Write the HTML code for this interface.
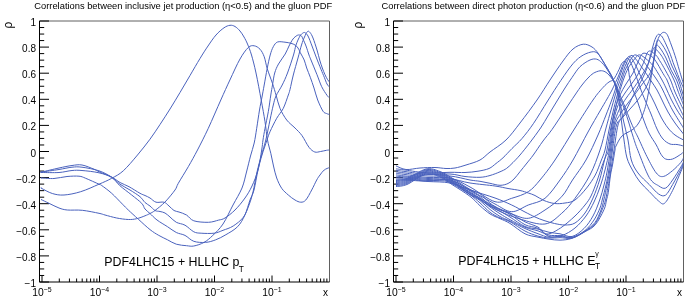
<!DOCTYPE html><html><head><meta charset="utf-8"><style>html,body{margin:0;padding:0;background:#fff;width:685px;height:300px;overflow:hidden}svg{display:block;will-change:transform}text{font-family:"Liberation Sans",sans-serif;fill:#000}</style></head><body>
<svg width="685" height="300" viewBox="0 0 685 300">
<defs><clipPath id="cl"><rect x="39.5" y="21.0" width="290.0" height="261.0"/></clipPath><clipPath id="cr"><rect x="393.5" y="21.0" width="290.0" height="261.0"/></clipPath></defs>
<path d="M39.5,21.0H329.5V282.0" fill="none" stroke="#606060" stroke-width="1"/>
<path d="M39.5,21.0V282.0H329.5" fill="none" stroke="#000" stroke-width="1"/>
<path d="M39.5,282.00h9.5M39.5,275.48h4.7M39.5,268.95h4.7M39.5,262.43h4.7M39.5,255.90h9.5M39.5,249.38h4.7M39.5,242.85h4.7M39.5,236.32h4.7M39.5,229.80h9.5M39.5,223.28h4.7M39.5,216.75h4.7M39.5,210.22h4.7M39.5,203.70h9.5M39.5,197.18h4.7M39.5,190.65h4.7M39.5,184.12h4.7M39.5,177.60h9.5M39.5,171.07h4.7M39.5,164.55h4.7M39.5,158.03h4.7M39.5,151.50h9.5M39.5,144.97h4.7M39.5,138.45h4.7M39.5,131.93h4.7M39.5,125.40h9.5M39.5,118.88h4.7M39.5,112.35h4.7M39.5,105.82h4.7M39.5,99.30h9.5M39.5,92.78h4.7M39.5,86.25h4.7M39.5,79.72h4.7M39.5,73.20h9.5M39.5,66.67h4.7M39.5,60.15h4.7M39.5,53.62h4.7M39.5,47.10h9.5M39.5,40.57h4.7M39.5,34.05h4.7M39.5,27.52h4.7M39.5,21.00h9.5M42.00,282.0v-6.5M59.31,282.0v-3.5M69.43,282.0v-3.5M76.62,282.0v-3.5M82.19,282.0v-3.5M86.74,282.0v-3.5M90.59,282.0v-3.5M93.93,282.0v-3.5M96.87,282.0v-3.5M99.50,282.0v-6.5M116.81,282.0v-3.5M126.93,282.0v-3.5M134.12,282.0v-3.5M139.69,282.0v-3.5M144.24,282.0v-3.5M148.09,282.0v-3.5M151.43,282.0v-3.5M154.37,282.0v-3.5M157.00,282.0v-6.5M174.31,282.0v-3.5M184.43,282.0v-3.5M191.62,282.0v-3.5M197.19,282.0v-3.5M201.74,282.0v-3.5M205.59,282.0v-3.5M208.93,282.0v-3.5M211.87,282.0v-3.5M214.50,282.0v-6.5M231.81,282.0v-3.5M241.93,282.0v-3.5M249.12,282.0v-3.5M254.69,282.0v-3.5M259.24,282.0v-3.5M263.09,282.0v-3.5M266.43,282.0v-3.5M269.37,282.0v-3.5M272.00,282.0v-6.5M289.31,282.0v-3.5M299.43,282.0v-3.5M306.62,282.0v-3.5M312.19,282.0v-3.5M316.74,282.0v-3.5M320.59,282.0v-3.5M323.93,282.0v-3.5M326.87,282.0v-3.5" stroke="#000" stroke-width="1" fill="none"/>
<text x="36.0" y="287.00" font-size="10" text-anchor="end">−1</text>
<text x="36.0" y="260.90" font-size="10" text-anchor="end">−0.8</text>
<text x="36.0" y="234.80" font-size="10" text-anchor="end">−0.6</text>
<text x="36.0" y="208.70" font-size="10" text-anchor="end">−0.4</text>
<text x="36.0" y="182.60" font-size="10" text-anchor="end">−0.2</text>
<text x="36.0" y="156.50" font-size="10" text-anchor="end">0</text>
<text x="36.0" y="130.40" font-size="10" text-anchor="end">0.2</text>
<text x="36.0" y="104.30" font-size="10" text-anchor="end">0.4</text>
<text x="36.0" y="78.20" font-size="10" text-anchor="end">0.6</text>
<text x="36.0" y="52.10" font-size="10" text-anchor="end">0.8</text>
<text x="36.0" y="26.00" font-size="10" text-anchor="end">1</text>
<text x="43.80" y="296" font-size="10.3" text-anchor="end">10</text><text x="43.60" y="291.5" font-size="7">−5</text>
<text x="101.30" y="296" font-size="10.3" text-anchor="end">10</text><text x="101.10" y="291.5" font-size="7">−4</text>
<text x="158.80" y="296" font-size="10.3" text-anchor="end">10</text><text x="158.60" y="291.5" font-size="7">−3</text>
<text x="216.30" y="296" font-size="10.3" text-anchor="end">10</text><text x="216.10" y="291.5" font-size="7">−2</text>
<text x="273.80" y="296" font-size="10.3" text-anchor="end">10</text><text x="273.60" y="291.5" font-size="7">−1</text>
<text x="325.5" y="296" font-size="10" text-anchor="middle">x</text>
<path d="M393.5,21.0H683.5V282.0" fill="none" stroke="#606060" stroke-width="1"/>
<path d="M393.5,21.0V282.0H683.5" fill="none" stroke="#000" stroke-width="1"/>
<path d="M393.5,282.00h9.5M393.5,275.48h4.7M393.5,268.95h4.7M393.5,262.43h4.7M393.5,255.90h9.5M393.5,249.38h4.7M393.5,242.85h4.7M393.5,236.32h4.7M393.5,229.80h9.5M393.5,223.28h4.7M393.5,216.75h4.7M393.5,210.22h4.7M393.5,203.70h9.5M393.5,197.18h4.7M393.5,190.65h4.7M393.5,184.12h4.7M393.5,177.60h9.5M393.5,171.07h4.7M393.5,164.55h4.7M393.5,158.03h4.7M393.5,151.50h9.5M393.5,144.97h4.7M393.5,138.45h4.7M393.5,131.93h4.7M393.5,125.40h9.5M393.5,118.88h4.7M393.5,112.35h4.7M393.5,105.82h4.7M393.5,99.30h9.5M393.5,92.78h4.7M393.5,86.25h4.7M393.5,79.72h4.7M393.5,73.20h9.5M393.5,66.67h4.7M393.5,60.15h4.7M393.5,53.62h4.7M393.5,47.10h9.5M393.5,40.57h4.7M393.5,34.05h4.7M393.5,27.52h4.7M393.5,21.00h9.5M396.00,282.0v-6.5M413.31,282.0v-3.5M423.43,282.0v-3.5M430.62,282.0v-3.5M436.19,282.0v-3.5M440.74,282.0v-3.5M444.59,282.0v-3.5M447.93,282.0v-3.5M450.87,282.0v-3.5M453.50,282.0v-6.5M470.81,282.0v-3.5M480.93,282.0v-3.5M488.12,282.0v-3.5M493.69,282.0v-3.5M498.24,282.0v-3.5M502.09,282.0v-3.5M505.43,282.0v-3.5M508.37,282.0v-3.5M511.00,282.0v-6.5M528.31,282.0v-3.5M538.43,282.0v-3.5M545.62,282.0v-3.5M551.19,282.0v-3.5M555.74,282.0v-3.5M559.59,282.0v-3.5M562.93,282.0v-3.5M565.87,282.0v-3.5M568.50,282.0v-6.5M585.81,282.0v-3.5M595.93,282.0v-3.5M603.12,282.0v-3.5M608.69,282.0v-3.5M613.24,282.0v-3.5M617.09,282.0v-3.5M620.43,282.0v-3.5M623.37,282.0v-3.5M626.00,282.0v-6.5M643.31,282.0v-3.5M653.43,282.0v-3.5M660.62,282.0v-3.5M666.19,282.0v-3.5M670.74,282.0v-3.5M674.59,282.0v-3.5M677.93,282.0v-3.5M680.87,282.0v-3.5" stroke="#000" stroke-width="1" fill="none"/>
<text x="390.0" y="287.00" font-size="10" text-anchor="end">−1</text>
<text x="390.0" y="260.90" font-size="10" text-anchor="end">−0.8</text>
<text x="390.0" y="234.80" font-size="10" text-anchor="end">−0.6</text>
<text x="390.0" y="208.70" font-size="10" text-anchor="end">−0.4</text>
<text x="390.0" y="182.60" font-size="10" text-anchor="end">−0.2</text>
<text x="390.0" y="156.50" font-size="10" text-anchor="end">0</text>
<text x="390.0" y="130.40" font-size="10" text-anchor="end">0.2</text>
<text x="390.0" y="104.30" font-size="10" text-anchor="end">0.4</text>
<text x="390.0" y="78.20" font-size="10" text-anchor="end">0.6</text>
<text x="390.0" y="52.10" font-size="10" text-anchor="end">0.8</text>
<text x="390.0" y="26.00" font-size="10" text-anchor="end">1</text>
<text x="397.80" y="296" font-size="10.3" text-anchor="end">10</text><text x="397.60" y="291.5" font-size="7">−5</text>
<text x="455.30" y="296" font-size="10.3" text-anchor="end">10</text><text x="455.10" y="291.5" font-size="7">−4</text>
<text x="512.80" y="296" font-size="10.3" text-anchor="end">10</text><text x="512.60" y="291.5" font-size="7">−3</text>
<text x="570.30" y="296" font-size="10.3" text-anchor="end">10</text><text x="570.10" y="291.5" font-size="7">−2</text>
<text x="627.80" y="296" font-size="10.3" text-anchor="end">10</text><text x="627.60" y="291.5" font-size="7">−1</text>
<text x="679.5" y="296" font-size="10" text-anchor="middle">x</text>
<text x="0" y="0" font-size="12" transform="translate(12.3 25.1) rotate(-90)" text-anchor="middle">ρ</text>
<text x="0" y="0" font-size="12" transform="translate(361.8 25.1) rotate(-90)" text-anchor="middle">ρ</text>
<text x="34.3" y="9.0" font-size="9.33">Correlations between inclusive jet production (η&lt;0.5) and the gluon PDF</text>
<text x="381.6" y="9.0" font-size="9.33">Correlations between direct photon production (η&lt;0.6) and the gluon PDF</text>
<text x="104.3" y="265.8" font-size="12.38">PDF4LHC15 + HLLHC p<tspan font-size="8.3" dy="5.8" dx="-0.7">T</tspan></text>
<text x="458.3" y="264.8" font-size="12.45">PDF4LHC15 + HLLHC E<tspan font-size="8.3" dy="3.9" dx="-0.4">T</tspan><tspan font-size="7" dx="-4.9" dy="-12.4">γ</tspan></text>
<g fill="none" stroke="#4a62bd" stroke-width="1.0" clip-path="url(#cl)">
<path d="M42.00,188.38C41.92,188.36 39.78,187.45 41.50,188.30C43.22,189.15 48.55,192.38 52.30,193.50C56.05,194.62 59.27,195.30 64.00,195.00C68.73,194.70 74.87,193.50 80.70,191.70C86.53,189.90 93.83,186.43 99.00,184.20C104.17,181.97 107.65,180.53 111.70,178.30C115.75,176.07 119.00,174.68 123.30,170.80C127.60,166.92 133.05,160.27 137.50,155.00C141.95,149.73 146.25,144.28 150.00,139.20C153.75,134.12 156.67,129.53 160.00,124.50C163.33,119.47 166.67,114.33 170.00,109.00C173.33,103.67 176.67,98.08 180.00,92.50C183.33,86.92 186.67,81.17 190.00,75.50C193.33,69.83 197.00,63.42 200.00,58.50C203.00,53.58 205.33,49.92 208.00,46.00C210.67,42.08 213.33,38.03 216.00,35.00C218.67,31.97 221.67,29.42 224.00,27.80C226.33,26.18 228.17,25.52 230.00,25.30C231.83,25.08 233.33,25.55 235.00,26.50C236.67,27.45 238.50,29.25 240.00,31.00C241.50,32.75 242.75,34.83 244.00,37.00C245.25,39.17 246.25,41.00 247.50,44.00C248.75,47.00 250.08,50.17 251.50,55.00C252.92,59.83 254.38,65.50 256.00,73.00C257.62,80.50 259.70,91.88 261.20,100.00C262.70,108.12 263.95,115.03 265.00,121.70C266.05,128.37 266.53,134.73 267.50,140.00C268.47,145.27 269.80,148.97 270.80,153.30C271.80,157.63 272.52,161.88 273.50,166.00C274.48,170.12 275.33,174.28 276.70,178.00C278.07,181.72 279.77,185.47 281.70,188.30C283.63,191.13 286.08,193.05 288.30,195.00C290.52,196.95 292.92,198.80 295.00,200.00C297.08,201.20 299.00,202.20 300.80,202.20C302.60,202.20 303.98,202.03 305.80,200.00C307.62,197.97 309.88,193.33 311.70,190.00C313.52,186.67 315.32,182.50 316.70,180.00C318.08,177.50 318.75,176.67 320.00,175.00C321.25,173.33 322.62,171.25 324.20,170.00C325.78,168.75 328.62,167.92 329.50,167.50"/>
<path d="M42.00,199.75C41.92,199.74 40.33,199.11 41.50,199.70C42.67,200.29 46.08,201.92 49.00,203.30C51.92,204.68 55.95,206.88 59.00,208.00C62.05,209.12 63.42,209.62 67.30,210.00C71.18,210.38 77.02,209.75 82.30,210.30C87.58,210.85 95.22,212.52 99.00,213.30C102.78,214.08 102.05,214.22 105.00,215.00C107.95,215.78 112.82,217.25 116.70,218.00C120.58,218.75 124.97,219.38 128.30,219.50C131.63,219.62 133.92,219.32 136.70,218.70C139.48,218.08 142.78,216.67 145.00,215.80C147.22,214.93 148.33,214.38 150.00,213.50C151.67,212.62 152.50,212.42 155.00,210.50C157.50,208.58 161.67,205.42 165.00,202.00C168.33,198.58 172.78,193.12 175.00,190.00C177.22,186.88 176.08,187.18 178.30,183.30C180.52,179.42 185.10,172.25 188.30,166.70C191.50,161.15 194.17,156.40 197.50,150.00C200.83,143.60 204.42,136.63 208.30,128.30C212.18,119.97 217.20,108.05 220.80,100.00C224.40,91.95 226.70,86.83 229.90,80.00C233.10,73.17 236.93,64.42 240.00,59.00C243.07,53.58 245.93,49.70 248.30,47.50C250.67,45.30 252.25,45.52 254.20,45.80C256.15,46.08 258.33,47.38 260.00,49.20C261.67,51.02 263.00,53.48 264.20,56.70C265.40,59.92 265.82,64.03 267.20,68.50C268.58,72.97 271.00,79.00 272.50,83.50C274.00,88.00 274.95,91.37 276.20,95.50C277.45,99.63 278.25,104.22 280.00,108.30C281.75,112.38 284.20,116.72 286.70,120.00C289.20,123.28 292.45,125.40 295.00,128.00C297.55,130.60 299.67,132.38 302.00,135.60C304.33,138.82 306.87,144.57 309.00,147.30C311.13,150.03 312.87,151.30 314.80,152.00C316.73,152.70 318.65,151.78 320.60,151.50C322.55,151.22 325.02,150.55 326.50,150.30C327.98,150.05 329.00,150.05 329.50,150.00"/>
<path d="M42.00,178.00C42.00,178.00 40.00,177.92 42.00,178.00C44.00,178.08 49.83,178.75 54.00,178.50C58.17,178.25 62.83,176.88 67.00,176.50C71.17,176.12 75.88,175.90 79.00,176.20C82.12,176.50 82.37,176.97 85.70,178.30C89.03,179.63 96.33,183.00 99.00,184.20C101.67,185.40 99.58,183.98 101.70,185.50C103.82,187.02 108.23,190.18 111.70,193.30C115.17,196.42 119.73,201.42 122.50,204.20C125.27,206.98 125.67,207.50 128.30,210.00C130.93,212.50 134.68,215.93 138.30,219.20C141.92,222.47 146.58,226.90 150.00,229.60C153.42,232.30 155.88,233.70 158.80,235.40C161.72,237.10 164.58,238.33 167.50,239.80C170.42,241.27 173.13,243.22 176.30,244.20C179.47,245.18 183.58,245.40 186.50,245.70C189.42,246.00 190.88,246.55 193.80,246.00C196.72,245.45 200.83,244.17 204.00,242.40C207.17,240.63 209.63,238.47 212.80,235.40C215.97,232.33 219.63,229.07 223.00,224.00C226.37,218.93 229.83,211.00 233.00,205.00C236.17,199.00 239.75,193.50 242.00,188.00C244.25,182.50 245.08,177.33 246.50,172.00C247.92,166.67 249.22,160.83 250.50,156.00C251.78,151.17 253.17,147.62 254.20,143.00C255.23,138.38 255.82,133.80 256.70,128.30C257.58,122.80 258.62,115.22 259.50,110.00C260.38,104.78 261.22,101.17 262.00,97.00C262.78,92.83 263.33,89.75 264.20,85.00C265.07,80.25 266.20,73.50 267.20,68.50C268.20,63.50 269.18,58.63 270.20,55.00C271.22,51.37 272.08,48.87 273.30,46.70C274.52,44.53 275.55,42.75 277.50,42.00C279.45,41.25 282.75,41.98 285.00,42.20C287.25,42.42 289.33,42.83 291.00,43.30C292.67,43.77 293.83,44.22 295.00,45.00C296.17,45.78 297.00,46.50 298.00,48.00C299.00,49.50 299.97,52.00 301.00,54.00C302.03,56.00 303.25,57.67 304.20,60.00C305.15,62.33 305.68,65.12 306.70,68.00C307.72,70.88 309.08,73.97 310.30,77.30C311.52,80.63 312.77,84.22 314.00,88.00C315.23,91.78 316.20,96.13 317.70,100.00C319.20,103.87 321.53,108.95 323.00,111.20C324.47,113.45 325.42,112.95 326.50,113.50C327.58,114.05 329.00,114.33 329.50,114.50"/>
<path d="M42.00,172.00C42.00,172.00 39.17,172.67 42.00,172.00C44.83,171.33 54.00,169.08 59.00,168.00C64.00,166.92 68.17,166.00 72.00,165.50C75.83,165.00 78.33,164.38 82.00,165.00C85.67,165.62 91.17,168.08 94.00,169.20C96.83,170.32 96.05,170.40 99.00,171.70C101.95,173.00 108.20,175.20 111.70,177.00C115.20,178.80 117.12,180.88 120.00,182.50C122.88,184.12 125.67,184.90 129.00,186.70C132.33,188.50 137.33,191.83 140.00,193.30C142.67,194.77 143.33,194.72 145.00,195.50C146.67,196.28 148.17,196.88 150.00,198.00C151.83,199.12 153.67,201.50 156.00,202.20C158.33,202.90 161.83,201.57 164.00,202.20C166.17,202.83 167.33,204.62 169.00,206.00C170.67,207.38 172.33,209.50 174.00,210.50C175.67,211.50 176.92,211.25 179.00,212.00C181.08,212.75 184.03,213.53 186.50,215.00C188.97,216.47 190.15,219.58 193.80,220.80C197.45,222.02 204.27,222.42 208.40,222.30C212.53,222.18 215.83,220.82 218.60,220.10C221.37,219.38 222.27,219.68 225.00,218.00C227.73,216.32 231.67,213.33 235.00,210.00C238.33,206.67 242.17,202.00 245.00,198.00C247.83,194.00 249.83,190.67 252.00,186.00C254.17,181.33 256.38,176.00 258.00,170.00C259.62,164.00 260.87,155.00 261.70,150.00C262.53,145.00 262.45,143.62 263.00,140.00C263.55,136.38 264.12,133.02 265.00,128.30C265.88,123.58 267.33,117.25 268.30,111.70C269.27,106.15 270.10,99.45 270.80,95.00C271.50,90.55 271.85,88.67 272.50,85.00C273.15,81.33 273.70,76.50 274.70,73.00C275.70,69.50 276.75,67.17 278.50,64.00C280.25,60.83 283.45,57.00 285.20,54.00C286.95,51.00 287.70,48.50 289.00,46.00C290.30,43.50 291.67,40.75 293.00,39.00C294.33,37.25 295.92,36.17 297.00,35.50C298.08,34.83 298.75,34.92 299.50,35.00C300.25,35.08 300.92,35.33 301.50,36.00C302.08,36.67 302.25,37.33 303.00,39.00C303.75,40.67 305.00,43.33 306.00,46.00C307.00,48.67 308.17,52.67 309.00,55.00C309.83,57.33 309.67,56.72 311.00,60.00C312.33,63.28 315.22,70.25 317.00,74.70C318.78,79.15 320.03,83.27 321.70,86.70C323.37,90.13 325.70,93.42 327.00,95.30C328.30,97.18 329.08,97.55 329.50,98.00"/>
<path d="M42.00,172.00C42.00,172.00 39.17,172.42 42.00,172.00C44.83,171.58 54.00,170.30 59.00,169.50C64.00,168.70 68.17,167.58 72.00,167.20C75.83,166.82 77.50,166.60 82.00,167.20C86.50,167.80 94.05,169.13 99.00,170.80C103.95,172.47 108.20,174.97 111.70,177.20C115.20,179.43 116.95,182.07 120.00,184.20C123.05,186.33 126.67,187.92 130.00,190.00C133.33,192.08 137.50,194.62 140.00,196.70C142.50,198.78 143.33,200.95 145.00,202.50C146.67,204.05 148.33,204.67 150.00,206.00C151.67,207.33 153.33,209.58 155.00,210.50C156.67,211.42 158.33,211.08 160.00,211.50C161.67,211.92 163.33,212.08 165.00,213.00C166.67,213.92 168.12,215.45 170.00,217.00C171.88,218.55 173.80,220.93 176.30,222.30C178.80,223.67 182.08,223.62 185.00,225.20C187.92,226.78 191.12,230.47 193.80,231.80C196.48,233.13 197.70,232.97 201.10,233.20C204.50,233.43 210.55,233.68 214.20,233.20C217.85,232.72 219.83,231.50 223.00,230.30C226.17,229.10 229.80,228.18 233.20,226.00C236.60,223.82 240.77,220.70 243.40,217.20C246.03,213.70 247.40,209.20 249.00,205.00C250.60,200.80 251.67,197.50 253.00,192.00C254.33,186.50 255.58,178.17 257.00,172.00C258.42,165.83 260.03,160.33 261.50,155.00C262.97,149.67 264.38,145.83 265.80,140.00C267.22,134.17 268.75,125.83 270.00,120.00C271.25,114.17 272.30,109.00 273.30,105.00C274.30,101.00 274.52,99.33 276.00,96.00C277.48,92.67 280.28,88.83 282.20,85.00C284.12,81.17 285.62,78.00 287.50,73.00C289.38,68.00 292.08,59.67 293.50,55.00C294.92,50.33 294.92,48.17 296.00,45.00C297.08,41.83 298.83,38.00 300.00,36.00C301.17,34.00 302.17,33.55 303.00,33.00C303.83,32.45 304.17,32.20 305.00,32.70C305.83,33.20 306.83,33.78 308.00,36.00C309.17,38.22 310.58,42.33 312.00,46.00C313.42,49.67 315.00,54.12 316.50,58.00C318.00,61.88 319.70,66.08 321.00,69.30C322.30,72.52 323.30,74.85 324.30,77.30C325.30,79.75 326.13,82.38 327.00,84.00C327.87,85.62 329.08,86.50 329.50,87.00"/>
<path d="M42.00,172.50C42.00,172.50 39.17,172.50 42.00,172.50C44.83,172.50 54.00,172.83 59.00,172.50C64.00,172.17 68.17,170.83 72.00,170.50C75.83,170.17 77.50,170.12 82.00,170.50C86.50,170.88 94.05,171.63 99.00,172.80C103.95,173.97 108.20,175.33 111.70,177.50C115.20,179.67 116.67,182.88 120.00,185.80C123.33,188.72 128.08,192.08 131.70,195.00C135.32,197.92 139.48,200.97 141.70,203.30C143.92,205.63 143.62,207.30 145.00,209.00C146.38,210.70 148.00,211.67 150.00,213.50C152.00,215.33 154.08,217.80 157.00,220.00C159.92,222.20 164.28,224.62 167.50,226.70C170.72,228.78 173.38,231.05 176.30,232.50C179.22,233.95 182.08,233.93 185.00,235.40C187.92,236.87 190.38,240.13 193.80,241.30C197.22,242.47 201.85,242.65 205.50,242.40C209.15,242.15 212.30,241.08 215.70,239.80C219.10,238.52 222.25,236.88 225.90,234.70C229.55,232.52 234.43,229.98 237.60,226.70C240.77,223.42 242.83,219.45 244.90,215.00C246.97,210.55 248.48,204.17 250.00,200.00C251.52,195.83 252.67,195.00 254.00,190.00C255.33,185.00 256.67,175.83 258.00,170.00C259.33,164.17 260.50,160.00 262.00,155.00C263.50,150.00 265.67,143.88 267.00,140.00C268.33,136.12 268.38,135.32 270.00,131.70C271.62,128.08 274.48,122.20 276.70,118.30C278.92,114.40 281.37,112.18 283.30,108.30C285.23,104.42 287.18,98.13 288.30,95.00C289.42,91.87 289.17,92.83 290.00,89.50C290.83,86.17 291.97,80.25 293.30,75.00C294.63,69.75 296.63,63.00 298.00,58.00C299.37,53.00 300.42,48.50 301.50,45.00C302.58,41.50 303.50,39.25 304.50,37.00C305.50,34.75 306.58,32.25 307.50,31.50C308.42,30.75 309.08,31.42 310.00,32.50C310.92,33.58 311.83,35.08 313.00,38.00C314.17,40.92 315.88,46.33 317.00,50.00C318.12,53.67 318.82,57.00 319.70,60.00C320.58,63.00 321.42,65.55 322.30,68.00C323.18,70.45 324.15,72.82 325.00,74.70C325.85,76.58 326.65,78.08 327.40,79.30C328.15,80.52 329.15,81.55 329.50,82.00"/>
</g>
<g fill="none" stroke="#4a62bd" stroke-width="1.0" clip-path="url(#cr)">
<path d="M396.00,165.90C397.67,166.50 402.00,169.15 406.00,169.50C410.00,169.85 415.17,168.33 420.00,168.00C424.83,167.67 430.67,167.42 435.00,167.50C439.33,167.58 442.67,168.42 446.00,168.50C449.33,168.58 451.67,168.58 455.00,168.00C458.33,167.42 461.83,166.33 466.00,165.00C470.17,163.67 476.00,162.17 480.00,160.00C484.00,157.83 485.67,155.33 490.00,152.00C494.33,148.67 501.00,144.83 506.00,140.00C511.00,135.17 514.83,129.67 520.00,123.00C525.17,116.33 532.00,107.17 537.00,100.00C542.00,92.83 545.67,86.50 550.00,80.00C554.33,73.50 559.17,66.17 563.00,61.00C566.83,55.83 569.62,51.80 573.00,49.00C576.38,46.20 580.13,44.53 583.30,44.20C586.47,43.87 589.55,45.53 592.00,47.00C594.45,48.47 596.25,50.75 598.00,53.00C599.75,55.25 601.08,58.17 602.50,60.50C603.92,62.83 605.25,64.92 606.50,67.00C607.75,69.08 608.83,70.83 610.00,73.00C611.17,75.17 612.42,77.17 613.50,80.00C614.58,82.83 615.58,86.33 616.50,90.00C617.42,93.67 618.20,97.00 619.00,102.00C619.80,107.00 620.47,113.67 621.30,120.00C622.13,126.33 623.05,133.67 624.00,140.00C624.95,146.33 625.50,152.83 627.00,158.00C628.50,163.17 630.83,167.00 633.00,171.00C635.17,175.00 637.28,178.57 640.00,182.00C642.72,185.43 646.20,188.43 649.30,191.60C652.40,194.77 656.07,199.05 658.60,201.00C661.13,202.95 662.17,205.05 664.50,203.30C666.83,201.55 669.88,195.75 672.60,190.50C675.32,185.25 678.98,176.05 680.80,171.80C682.62,167.55 683.05,166.13 683.50,165.00"/>
<path d="M396.00,168.83C397.50,169.02 399.67,169.30 405.00,170.00C410.33,170.70 420.50,172.62 428.00,173.00C435.50,173.38 443.83,172.38 450.00,172.30C456.17,172.22 460.33,172.68 465.00,172.50C469.67,172.32 474.00,171.87 478.00,171.20C482.00,170.53 486.00,169.78 489.00,168.50C492.00,167.22 493.67,165.28 496.00,163.50C498.33,161.72 500.33,160.30 503.00,157.80C505.67,155.30 508.83,151.72 512.00,148.50C515.17,145.28 518.40,142.70 522.00,138.50C525.60,134.30 529.33,129.55 533.60,123.30C537.87,117.05 543.07,108.13 547.60,101.00C552.13,93.87 556.52,86.78 560.80,80.50C565.08,74.22 569.55,67.55 573.30,63.30C577.05,59.05 579.97,56.93 583.30,55.00C586.63,53.07 590.80,51.83 593.30,51.70C595.80,51.57 596.68,52.65 598.30,54.20C599.92,55.75 601.55,58.70 603.00,61.00C604.45,63.30 605.75,65.83 607.00,68.00C608.25,70.17 609.33,71.83 610.50,74.00C611.67,76.17 612.92,78.33 614.00,81.00C615.08,83.67 616.00,86.50 617.00,90.00C618.00,93.50 618.95,97.00 620.00,102.00C621.05,107.00 621.97,113.67 623.30,120.00C624.63,126.33 626.67,133.33 628.00,140.00C629.33,146.67 629.63,154.50 631.30,160.00C632.97,165.50 635.00,168.90 638.00,173.00C641.00,177.10 645.87,181.10 649.30,184.60C652.73,188.10 655.88,192.25 658.60,194.00C661.32,195.75 663.27,196.67 665.60,195.10C667.93,193.53 670.07,188.87 672.60,184.60C675.13,180.33 678.98,173.10 680.80,169.50C682.62,165.90 683.05,164.08 683.50,163.00"/>
<path d="M396.00,170.33C397.50,170.52 399.67,170.80 405.00,171.50C410.33,172.20 420.50,174.08 428.00,174.50C435.50,174.92 443.83,173.67 450.00,174.00C456.17,174.33 460.00,175.95 465.00,176.50C470.00,177.05 475.83,177.47 480.00,177.30C484.17,177.13 486.67,176.42 490.00,175.50C493.33,174.58 497.22,173.00 500.00,171.80C502.78,170.60 504.53,169.85 506.70,168.30C508.87,166.75 510.78,164.72 513.00,162.50C515.22,160.28 517.17,158.33 520.00,155.00C522.83,151.67 526.57,147.00 530.00,142.50C533.43,138.00 537.52,132.58 540.60,128.00C543.68,123.42 545.77,119.50 548.50,115.00C551.23,110.50 554.25,105.50 557.00,101.00C559.75,96.50 562.50,91.92 565.00,88.00C567.50,84.08 569.50,81.05 572.00,77.50C574.50,73.95 577.00,69.62 580.00,66.70C583.00,63.78 587.22,61.25 590.00,60.00C592.78,58.75 594.75,58.78 596.70,59.20C598.65,59.62 600.23,61.20 601.70,62.50C603.17,63.80 604.28,65.33 605.50,67.00C606.72,68.67 607.83,70.58 609.00,72.50C610.17,74.42 611.42,76.42 612.50,78.50C613.58,80.58 614.42,82.25 615.50,85.00C616.58,87.75 617.58,91.17 619.00,95.00C620.42,98.83 622.50,103.83 624.00,108.00C625.50,112.17 626.45,115.12 628.00,120.00C629.55,124.88 631.63,132.18 633.30,137.30C634.97,142.42 635.33,143.98 638.00,150.70C640.67,157.42 645.87,171.75 649.30,177.60C652.73,183.45 655.88,184.05 658.60,185.80C661.32,187.55 663.27,189.07 665.60,188.10C667.93,187.13 670.07,183.50 672.60,180.00C675.13,176.50 678.98,170.10 680.80,167.10C682.62,164.10 683.05,162.85 683.50,162.00"/>
<path d="M396.00,171.83C397.50,172.02 399.67,172.30 405.00,173.00C410.33,173.70 420.50,175.50 428.00,176.00C435.50,176.50 443.00,175.33 450.00,176.00C457.00,176.67 465.00,179.12 470.00,180.00C475.00,180.88 476.67,180.75 480.00,181.30C483.33,181.85 486.67,182.63 490.00,183.30C493.33,183.97 497.00,185.27 500.00,185.30C503.00,185.33 505.67,184.55 508.00,183.50C510.33,182.45 512.00,180.97 514.00,179.00C516.00,177.03 517.83,174.37 520.00,171.70C522.17,169.03 524.78,165.78 527.00,163.00C529.22,160.22 530.63,158.67 533.30,155.00C535.97,151.33 539.88,145.25 543.00,141.00C546.12,136.75 548.33,134.67 552.00,129.50C555.67,124.33 561.17,115.75 565.00,110.00C568.83,104.25 572.17,99.17 575.00,95.00C577.83,90.83 579.83,87.83 582.00,85.00C584.17,82.17 586.12,79.95 588.00,78.00C589.88,76.05 591.30,74.50 593.30,73.30C595.30,72.10 598.05,71.07 600.00,70.80C601.95,70.53 603.50,71.00 605.00,71.70C606.50,72.40 607.75,73.70 609.00,75.00C610.25,76.30 611.33,77.67 612.50,79.50C613.67,81.33 614.75,83.42 616.00,86.00C617.25,88.58 618.50,91.50 620.00,95.00C621.50,98.50 623.33,102.83 625.00,107.00C626.67,111.17 628.38,116.05 630.00,120.00C631.62,123.95 633.37,127.82 634.70,130.70C636.03,133.58 635.95,132.97 638.00,137.30C640.05,141.63 643.95,150.75 647.00,156.70C650.05,162.65 653.58,169.70 656.30,173.00C659.02,176.30 660.58,176.90 663.30,176.50C666.02,176.10 669.68,172.93 672.60,170.60C675.52,168.27 678.98,164.60 680.80,162.50C682.62,160.40 683.05,158.75 683.50,158.00"/>
<path d="M396.00,173.33C397.50,173.52 399.67,173.80 405.00,174.50C410.33,175.20 420.50,176.92 428.00,177.50C435.50,178.08 443.00,176.42 450.00,178.00C457.00,179.58 462.50,183.05 470.00,187.00C477.50,190.95 488.05,199.82 495.00,201.70C501.95,203.58 506.15,199.97 511.70,198.30C517.25,196.63 523.58,194.75 528.30,191.70C533.02,188.65 535.55,185.28 540.00,180.00C544.45,174.72 549.17,168.67 555.00,160.00C560.83,151.33 568.67,138.00 575.00,128.00C581.33,118.00 588.33,106.75 593.00,100.00C597.67,93.25 600.33,90.50 603.00,87.50C605.67,84.50 607.33,83.25 609.00,82.00C610.67,80.75 611.83,81.08 613.00,80.00C614.17,78.92 615.00,77.25 616.00,75.50C617.00,73.75 618.08,71.42 619.00,69.50C619.92,67.58 620.67,65.33 621.50,64.00C622.33,62.67 623.17,61.67 624.00,61.50C624.83,61.33 625.75,61.58 626.50,63.00C627.25,64.42 627.92,67.17 628.50,70.00C629.08,72.83 629.25,76.67 630.00,80.00C630.75,83.33 631.83,86.67 633.00,90.00C634.17,93.33 635.33,95.33 637.00,100.00C638.67,104.67 641.00,112.50 643.00,118.00C645.00,123.50 646.78,128.50 649.00,133.00C651.22,137.50 654.30,141.45 656.30,145.00C658.30,148.55 659.45,151.97 661.00,154.30C662.55,156.63 663.67,158.22 665.60,159.00C667.53,159.78 670.07,159.78 672.60,159.00C675.13,158.22 678.98,155.47 680.80,154.30C682.62,153.13 683.05,152.38 683.50,152.00"/>
<path d="M396.00,174.83C397.50,175.02 399.67,175.39 405.00,176.00C410.33,176.61 420.50,177.83 428.00,178.50C435.50,179.17 443.00,178.08 450.00,180.00C457.00,181.92 462.50,186.00 470.00,190.00C477.50,194.00 488.05,200.38 495.00,204.00C501.95,207.62 506.15,211.53 511.70,211.70C517.25,211.87 522.75,207.23 528.30,205.00C533.85,202.77 539.72,202.47 545.00,198.30C550.28,194.13 555.33,186.38 560.00,180.00C564.67,173.62 568.33,168.00 573.00,160.00C577.67,152.00 583.50,140.17 588.00,132.00C592.50,123.83 596.83,116.50 600.00,111.00C603.17,105.50 605.00,102.50 607.00,99.00C609.00,95.50 610.58,92.75 612.00,90.00C613.42,87.25 614.42,84.83 615.50,82.50C616.58,80.17 617.58,78.17 618.50,76.00C619.42,73.83 620.17,71.58 621.00,69.50C621.83,67.42 622.58,65.33 623.50,63.50C624.42,61.67 625.50,59.08 626.50,58.50C627.50,57.92 628.42,58.42 629.50,60.00C630.58,61.58 631.67,64.67 633.00,68.00C634.33,71.33 636.17,76.33 637.50,80.00C638.83,83.67 639.75,86.67 641.00,90.00C642.25,93.33 643.33,96.00 645.00,100.00C646.67,104.00 649.00,109.17 651.00,114.00C653.00,118.83 655.00,124.83 657.00,129.00C659.00,133.17 660.83,136.50 663.00,139.00C665.17,141.50 667.67,143.08 670.00,144.00C672.33,144.92 674.75,144.17 677.00,144.50C679.25,144.83 682.42,145.75 683.50,146.00"/>
<path d="M396.00,176.22C397.50,176.35 399.67,176.45 405.00,177.00C410.33,177.55 420.50,178.83 428.00,179.50C435.50,180.17 443.00,178.92 450.00,181.00C457.00,183.08 462.50,187.67 470.00,192.00C477.50,196.33 488.00,203.33 495.00,207.00C502.00,210.67 506.45,212.12 512.00,214.00C517.55,215.88 522.80,218.97 528.30,218.30C533.80,217.63 539.43,213.60 545.00,210.00C550.57,206.40 557.12,201.70 561.70,196.70C566.28,191.70 568.45,186.12 572.50,180.00C576.55,173.88 581.75,167.50 586.00,160.00C590.25,152.50 594.67,142.50 598.00,135.00C601.33,127.50 603.83,120.50 606.00,115.00C608.17,109.50 609.58,105.83 611.00,102.00C612.42,98.17 613.50,95.00 614.50,92.00C615.50,89.00 616.17,86.50 617.00,84.00C617.83,81.50 618.67,79.33 619.50,77.00C620.33,74.67 621.17,72.25 622.00,70.00C622.83,67.75 623.42,65.75 624.50,63.50C625.58,61.25 627.30,57.33 628.50,56.50C629.70,55.67 630.45,56.92 631.70,58.50C632.95,60.08 634.20,62.42 636.00,66.00C637.80,69.58 640.33,75.67 642.50,80.00C644.67,84.33 646.92,88.00 649.00,92.00C651.08,96.00 653.00,99.83 655.00,104.00C657.00,108.17 658.83,113.00 661.00,117.00C663.17,121.00 665.67,125.00 668.00,128.00C670.33,131.00 672.42,133.00 675.00,135.00C677.58,137.00 682.08,139.17 683.50,140.00"/>
<path d="M396.00,177.61C397.50,177.67 399.67,177.52 405.00,178.00C410.33,178.48 420.50,179.83 428.00,180.50C435.50,181.17 443.00,179.92 450.00,182.00C457.00,184.08 462.50,188.50 470.00,193.00C477.50,197.50 486.67,204.67 495.00,209.00C503.33,213.33 511.67,216.50 520.00,219.00C528.33,221.50 538.05,224.95 545.00,224.00C551.95,223.05 556.70,217.58 561.70,213.30C566.70,209.02 570.28,204.68 575.00,198.30C579.72,191.92 585.83,183.05 590.00,175.00C594.17,166.95 597.33,157.83 600.00,150.00C602.67,142.17 604.17,134.67 606.00,128.00C607.83,121.33 609.50,115.33 611.00,110.00C612.50,104.67 613.83,100.00 615.00,96.00C616.17,92.00 617.00,89.00 618.00,86.00C619.00,83.00 620.08,80.58 621.00,78.00C621.92,75.42 622.58,73.00 623.50,70.50C624.42,68.00 625.25,65.50 626.50,63.00C627.75,60.50 629.47,56.17 631.00,55.50C632.53,54.83 633.82,56.92 635.70,59.00C637.58,61.08 639.83,64.50 642.30,68.00C644.77,71.50 648.05,76.33 650.50,80.00C652.95,83.67 655.08,86.67 657.00,90.00C658.92,93.33 660.17,96.33 662.00,100.00C663.83,103.67 665.83,108.17 668.00,112.00C670.17,115.83 672.42,119.33 675.00,123.00C677.58,126.67 682.08,132.17 683.50,134.00"/>
<path d="M396.00,179.00C397.50,179.00 399.67,178.67 405.00,179.00C410.33,179.33 420.50,181.00 428.00,181.00C435.50,181.00 443.00,178.67 450.00,179.00C457.00,179.33 462.50,181.83 470.00,183.00C477.50,184.17 488.67,185.08 495.00,186.00C501.33,186.92 503.83,187.75 508.00,188.50C512.17,189.25 516.62,189.75 520.00,190.50C523.38,191.25 525.80,192.17 528.30,193.00C530.80,193.83 532.38,194.25 535.00,195.50C537.62,196.75 540.75,199.17 544.00,200.50C547.25,201.83 551.00,203.08 554.50,203.50C558.00,203.92 561.58,203.58 565.00,203.00C568.42,202.42 571.40,202.50 575.00,200.00C578.60,197.50 583.22,192.17 586.60,188.00C589.98,183.83 592.90,179.50 595.30,175.00C597.70,170.50 599.38,165.17 601.00,161.00C602.62,156.83 603.67,155.17 605.00,150.00C606.33,144.83 607.67,136.33 609.00,130.00C610.33,123.67 611.67,117.67 613.00,112.00C614.33,106.33 615.83,100.33 617.00,96.00C618.17,91.67 619.08,89.00 620.00,86.00C620.92,83.00 621.67,80.58 622.50,78.00C623.33,75.42 623.92,73.08 625.00,70.50C626.08,67.92 627.42,65.08 629.00,62.50C630.58,59.92 632.50,55.67 634.50,55.00C636.50,54.33 638.80,56.50 641.00,58.50C643.20,60.50 645.03,63.42 647.70,67.00C650.37,70.58 654.57,76.33 657.00,80.00C659.43,83.67 660.63,85.83 662.30,89.00C663.97,92.17 665.22,95.33 667.00,99.00C668.78,102.67 670.25,106.17 673.00,111.00C675.75,115.83 681.75,125.17 683.50,128.00"/>
<path d="M396.00,180.00C397.50,180.00 399.67,179.75 405.00,180.00C410.33,180.25 420.50,181.00 428.00,181.50C435.50,182.00 443.00,181.58 450.00,183.00C457.00,184.42 462.50,187.50 470.00,190.00C477.50,192.50 488.05,195.50 495.00,198.00C501.95,200.50 506.70,202.67 511.70,205.00C516.70,207.33 521.12,210.00 525.00,212.00C528.88,214.00 531.83,215.58 535.00,217.00C538.17,218.42 540.75,219.42 544.00,220.50C547.25,221.58 551.00,222.75 554.50,223.50C558.00,224.25 561.58,225.08 565.00,225.00C568.42,224.92 571.67,225.00 575.00,223.00C578.33,221.00 582.00,217.17 585.00,213.00C588.00,208.83 590.57,203.50 593.00,198.00C595.43,192.50 597.77,186.00 599.60,180.00C601.43,174.00 602.77,167.00 604.00,162.00C605.23,157.00 606.00,155.00 607.00,150.00C608.00,145.00 608.83,138.00 610.00,132.00C611.17,126.00 612.67,119.67 614.00,114.00C615.33,108.33 616.83,102.50 618.00,98.00C619.17,93.50 620.00,90.33 621.00,87.00C622.00,83.67 623.00,80.75 624.00,78.00C625.00,75.25 625.83,72.92 627.00,70.50C628.17,68.08 629.67,65.50 631.00,63.50C632.33,61.50 633.75,59.92 635.00,58.50C636.25,57.08 637.17,55.33 638.50,55.00C639.83,54.67 640.80,55.00 643.00,56.50C645.20,58.00 649.37,61.50 651.70,64.00C654.03,66.50 655.28,68.83 657.00,71.50C658.72,74.17 660.50,77.25 662.00,80.00C663.50,82.75 664.50,84.83 666.00,88.00C667.50,91.17 669.17,95.33 671.00,99.00C672.83,102.67 674.92,106.50 677.00,110.00C679.08,113.50 682.42,118.33 683.50,120.00"/>
<path d="M396.00,180.54C397.83,180.20 402.00,180.42 407.00,178.50C412.00,176.58 420.50,170.17 426.00,169.00C431.50,167.83 435.67,170.00 440.00,171.50C444.33,173.00 447.00,175.04 452.00,178.02C457.00,181.00 465.33,186.77 470.00,189.39C474.67,192.01 476.67,191.43 480.00,193.73C483.33,196.04 486.67,200.64 490.00,203.20C493.33,205.75 496.67,207.45 500.00,209.06C503.33,210.68 505.83,210.76 510.00,212.89C514.17,215.02 520.33,219.48 525.00,221.85C529.67,224.22 534.33,225.07 538.00,227.09C541.67,229.12 543.25,233.85 547.00,234.00C550.75,234.15 555.83,231.00 560.50,228.00C565.17,225.00 570.92,219.83 575.00,216.00C579.08,212.17 582.33,208.33 585.00,205.00C587.67,201.67 589.00,200.00 591.00,196.00C593.00,192.00 595.17,186.00 597.00,181.00C598.83,176.00 600.58,170.00 602.00,166.00C603.42,162.00 604.42,159.67 605.50,157.00C606.58,154.33 607.42,155.33 608.50,150.00C609.58,144.67 610.83,132.00 612.00,125.00C613.17,118.00 614.17,113.00 615.50,108.00C616.83,103.00 618.25,99.00 620.00,95.00C621.75,91.00 623.83,87.67 626.00,84.00C628.17,80.33 631.00,76.67 633.00,73.00C635.00,69.33 636.33,65.28 638.00,62.00C639.67,58.72 640.72,54.22 643.00,53.30C645.28,52.38 649.37,54.88 651.70,56.50C654.03,58.12 655.45,60.75 657.00,63.00C658.55,65.25 659.67,67.72 661.00,70.00C662.33,72.28 664.00,75.03 665.00,76.70C666.00,78.37 666.00,77.78 667.00,80.00C668.00,82.22 669.50,86.50 671.00,90.00C672.50,93.50 673.92,96.67 676.00,101.00C678.08,105.33 682.25,113.50 683.50,116.00"/>
<path d="M396.00,181.54C397.83,181.20 402.00,181.45 407.00,179.50C412.00,177.55 420.50,171.01 426.00,169.83C431.50,168.65 435.67,170.87 440.00,172.42C444.33,173.96 447.00,176.05 452.00,179.10C457.00,182.15 465.33,187.82 470.00,190.74C474.67,193.66 476.67,194.24 480.00,196.62C483.33,199.00 486.67,202.84 490.00,205.04C493.33,207.23 496.67,208.24 500.00,209.79C503.33,211.34 505.83,211.86 510.00,214.35C514.17,216.83 520.33,222.37 525.00,224.71C529.67,227.04 534.00,226.37 538.00,228.34C542.00,230.30 545.00,235.31 549.00,236.50C553.00,237.69 557.67,236.92 562.00,235.50C566.33,234.08 571.00,231.25 575.00,228.00C579.00,224.75 582.83,220.33 586.00,216.00C589.17,211.67 591.67,206.83 594.00,202.00C596.33,197.17 598.17,192.33 600.00,187.00C601.83,181.67 603.42,176.17 605.00,170.00C606.58,163.83 608.17,157.50 609.50,150.00C610.83,142.50 611.75,132.00 613.00,125.00C614.25,118.00 615.33,112.83 617.00,108.00C618.67,103.17 620.83,99.67 623.00,96.00C625.17,92.33 627.67,89.33 630.00,86.00C632.33,82.67 634.83,79.67 637.00,76.00C639.17,72.33 641.08,68.12 643.00,64.00C644.92,59.88 646.38,52.80 648.50,51.30C650.62,49.80 653.83,53.43 655.70,55.00C657.57,56.57 658.37,58.65 659.70,60.70C661.03,62.75 661.90,64.08 663.70,67.30C665.50,70.52 668.62,75.88 670.50,80.00C672.38,84.12 672.83,87.00 675.00,92.00C677.17,97.00 682.08,107.00 683.50,110.00"/>
<path d="M396.00,182.54C397.83,182.20 402.00,182.48 407.00,180.50C412.00,178.52 420.50,171.86 426.00,170.67C431.50,169.47 435.67,171.75 440.00,173.33C444.33,174.92 447.00,176.92 452.00,180.18C457.00,183.44 465.33,189.84 470.00,192.91C474.67,195.98 476.67,196.45 480.00,198.60C483.33,200.74 486.67,203.71 490.00,205.80C493.33,207.88 496.67,209.24 500.00,211.12C503.33,212.99 505.83,214.48 510.00,217.05C514.17,219.62 520.33,224.52 525.00,226.53C529.67,228.53 534.00,228.13 538.00,229.09C542.00,230.04 545.33,231.46 549.00,232.25C552.67,233.04 556.17,233.11 560.00,233.82C563.83,234.52 568.00,237.39 572.00,236.50C576.00,235.61 580.50,231.92 584.00,228.50C587.50,225.08 590.38,220.75 593.00,216.00C595.62,211.25 597.87,205.17 599.70,200.00C601.53,194.83 602.78,189.67 604.00,185.00C605.22,180.33 605.92,177.83 607.00,172.00C608.08,166.17 609.33,157.83 610.50,150.00C611.67,142.17 612.58,131.67 614.00,125.00C615.42,118.33 616.95,114.50 619.00,110.00C621.05,105.50 623.97,101.50 626.30,98.00C628.63,94.50 630.55,92.50 633.00,89.00C635.45,85.50 638.50,81.17 641.00,77.00C643.50,72.83 645.92,68.75 648.00,64.00C650.08,59.25 652.22,51.00 653.50,48.50C654.78,46.00 654.45,47.92 655.70,49.00C656.95,50.08 659.45,52.83 661.00,55.00C662.55,57.17 662.83,57.83 665.00,62.00C667.17,66.17 671.83,75.17 674.00,80.00C676.17,84.83 676.42,86.83 678.00,91.00C679.58,95.17 682.58,102.67 683.50,105.00"/>
<path d="M396.00,183.54C397.83,183.20 402.00,183.51 407.00,181.50C412.00,179.49 420.50,172.71 426.00,171.50C431.50,170.29 435.67,172.62 440.00,174.25C444.33,175.88 447.00,177.92 452.00,181.26C457.00,184.60 465.33,191.28 470.00,194.30C474.67,197.33 476.67,197.29 480.00,199.41C483.33,201.52 486.67,204.61 490.00,207.00C493.33,209.39 496.67,211.62 500.00,213.74C503.33,215.85 505.83,217.42 510.00,219.68C514.17,221.94 520.33,225.42 525.00,227.28C529.67,229.15 534.00,229.57 538.00,230.88C542.00,232.19 545.33,234.35 549.00,235.14C552.67,235.93 556.17,235.26 560.00,235.62C563.83,235.98 567.83,238.15 572.00,237.30C576.17,236.45 581.33,233.38 585.00,230.50C588.67,227.62 591.50,223.75 594.00,220.00C596.50,216.25 598.63,211.33 600.00,208.00C601.37,204.67 601.20,203.83 602.20,200.00C603.20,196.17 604.95,189.67 606.00,185.00C607.05,180.33 607.58,177.83 608.50,172.00C609.42,166.17 610.42,157.83 611.50,150.00C612.58,142.17 613.42,131.17 615.00,125.00C616.58,118.83 618.83,116.67 621.00,113.00C623.17,109.33 625.78,106.00 628.00,103.00C630.22,100.00 631.92,98.17 634.30,95.00C636.68,91.83 639.63,87.72 642.30,84.00C644.97,80.28 648.35,77.03 650.30,72.70C652.25,68.37 653.05,62.53 654.00,58.00C654.95,53.47 655.00,47.17 656.00,45.50C657.00,43.83 658.33,45.92 660.00,48.00C661.67,50.08 664.17,54.33 666.00,58.00C667.83,61.67 669.25,66.33 671.00,70.00C672.75,73.67 675.00,76.67 676.50,80.00C678.00,83.33 678.83,86.50 680.00,90.00C681.17,93.50 682.92,99.17 683.50,101.00"/>
<path d="M396.00,184.54C397.83,184.20 402.00,184.53 407.00,182.50C412.00,180.47 420.50,173.56 426.00,172.33C431.50,171.11 435.67,173.50 440.00,175.17C444.33,176.83 447.00,179.12 452.00,182.34C457.00,185.56 465.33,191.44 470.00,194.46C474.67,197.49 476.67,197.99 480.00,200.50C483.33,203.01 486.67,206.86 490.00,209.52C493.33,212.18 496.67,214.53 500.00,216.45C503.33,218.36 505.83,219.01 510.00,221.02C514.17,223.03 520.33,226.38 525.00,228.50C529.67,230.62 534.00,232.27 538.00,233.73C542.00,235.19 545.33,236.80 549.00,237.24C552.67,237.68 556.17,236.27 560.00,236.37C563.83,236.46 567.83,238.69 572.00,237.80C576.17,236.91 581.17,233.55 585.00,231.00C588.83,228.45 592.33,226.00 595.00,222.50C597.67,219.00 599.53,213.75 601.00,210.00C602.47,206.25 602.80,204.17 603.80,200.00C604.80,195.83 606.05,189.67 607.00,185.00C607.95,180.33 608.58,177.83 609.50,172.00C610.42,166.17 611.33,157.83 612.50,150.00C613.67,142.17 614.75,130.50 616.50,125.00C618.25,119.50 620.75,119.67 623.00,117.00C625.25,114.33 627.67,111.67 630.00,109.00C632.33,106.33 634.67,104.00 637.00,101.00C639.33,98.00 641.83,94.83 644.00,91.00C646.17,87.17 648.33,83.17 650.00,78.00C651.67,72.83 652.75,66.17 654.00,60.00C655.25,53.83 656.33,43.83 657.50,41.00C658.67,38.17 659.42,41.00 661.00,43.00C662.58,45.00 665.17,49.17 667.00,53.00C668.83,56.83 670.08,61.50 672.00,66.00C673.92,70.50 676.58,75.00 678.50,80.00C680.42,85.00 682.67,93.33 683.50,96.00"/>
<path d="M396.00,185.54C397.83,185.20 402.00,185.56 407.00,183.50C412.00,181.44 420.50,174.40 426.00,173.17C431.50,171.93 435.67,174.37 440.00,176.08C444.33,177.79 447.00,180.31 452.00,183.42C457.00,186.53 465.33,191.49 470.00,194.74C474.67,197.98 476.67,199.98 480.00,202.91C483.33,205.84 486.67,209.80 490.00,212.30C493.33,214.80 496.67,216.34 500.00,217.92C503.33,219.49 505.83,219.56 510.00,221.74C514.17,223.93 520.33,228.65 525.00,231.04C529.67,233.43 534.00,234.92 538.00,236.10C542.00,237.27 545.33,237.85 549.00,238.11C552.67,238.36 556.17,237.61 560.00,237.61C563.83,237.60 567.83,239.13 572.00,238.10C576.17,237.07 581.12,233.83 585.00,231.40C588.88,228.97 592.47,227.07 595.30,223.50C598.13,219.93 600.30,213.92 602.00,210.00C603.70,206.08 604.50,203.83 605.50,200.00C606.50,196.17 607.17,191.67 608.00,187.00C608.83,182.33 609.50,178.17 610.50,172.00C611.50,165.83 612.75,157.83 614.00,150.00C615.25,142.17 616.58,130.50 618.00,125.00C619.42,119.50 620.72,120.33 622.50,117.00C624.28,113.67 626.62,109.17 628.70,105.00C630.78,100.83 632.83,96.17 635.00,92.00C637.17,87.83 639.70,84.00 641.70,80.00C643.70,76.00 645.53,72.17 647.00,68.00C648.47,63.83 649.50,58.67 650.50,55.00C651.50,51.33 652.25,48.58 653.00,46.00C653.75,43.42 654.33,41.25 655.00,39.50C655.67,37.75 656.33,36.37 657.00,35.50C657.67,34.63 658.12,34.05 659.00,34.30C659.88,34.55 661.08,35.22 662.30,37.00C663.52,38.78 664.97,42.12 666.30,45.00C667.63,47.88 669.18,51.42 670.30,54.30C671.42,57.18 672.05,59.68 673.00,62.30C673.95,64.92 674.92,67.22 676.00,70.00C677.08,72.78 678.25,76.00 679.50,79.00C680.75,82.00 682.83,86.50 683.50,88.00"/>
<path d="M396.00,186.54C397.83,186.20 402.00,186.59 407.00,184.50C412.00,182.41 420.50,175.25 426.00,174.00C431.50,172.75 435.67,175.25 440.00,177.00C444.33,178.75 447.00,181.28 452.00,184.50C457.00,187.72 465.33,192.76 470.00,196.30C474.67,199.84 476.67,202.81 480.00,205.74C483.33,208.68 486.67,211.76 490.00,213.91C493.33,216.05 496.67,217.04 500.00,218.63C503.33,220.22 505.83,220.90 510.00,223.43C514.17,225.96 520.33,231.52 525.00,233.81C529.67,236.10 534.00,236.26 538.00,237.15C542.00,238.03 545.33,238.61 549.00,239.11C552.67,239.61 556.17,240.29 560.00,240.15C563.83,240.02 567.83,239.71 572.00,238.30C576.17,236.89 581.12,233.95 585.00,231.70C588.88,229.45 592.13,228.48 595.30,224.80C598.47,221.12 602.13,213.73 604.00,209.60C605.87,205.47 605.78,202.88 606.50,200.00C607.22,197.12 607.63,196.47 608.30,192.30C608.97,188.13 609.80,179.55 610.50,175.00C611.20,170.45 611.75,169.17 612.50,165.00C613.25,160.83 614.42,153.17 615.00,150.00C615.58,146.83 614.83,148.33 616.00,146.00C617.17,143.67 619.33,138.67 622.00,136.00C624.67,133.33 629.33,132.00 632.00,130.00C634.67,128.00 636.17,126.67 638.00,124.00C639.83,121.33 641.50,118.00 643.00,114.00C644.50,110.00 645.50,107.00 647.00,100.00C648.50,93.00 650.55,81.00 652.00,72.00C653.45,63.00 654.65,51.62 655.70,46.00C656.75,40.38 657.42,40.30 658.30,38.30C659.18,36.30 660.10,35.00 661.00,34.00C661.90,33.00 662.70,32.25 663.70,32.30C664.70,32.35 665.90,32.63 667.00,34.30C668.10,35.97 669.18,39.40 670.30,42.30C671.42,45.20 672.70,48.80 673.70,51.70C674.70,54.60 675.42,56.82 676.30,59.70C677.18,62.58 677.80,64.95 679.00,69.00C680.20,73.05 682.75,81.50 683.50,84.00"/>
</g>
</svg></body></html>
